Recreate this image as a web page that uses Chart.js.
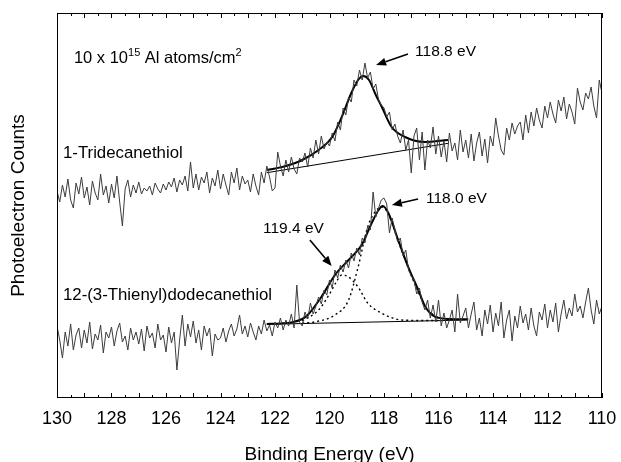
<!DOCTYPE html>
<html><head><meta charset="utf-8">
<script src="https://cdn.jsdelivr.net/npm/chart.js@4"></script>
<style>html,body{margin:0;padding:0;background:#fff}#wrap{width:621px;height:462px}</style>
</head><body><div id="wrap"><canvas id="c" width="621" height="462"></canvas></div>
<script>
// Binding energy grid (eV)
const energies = [
130.0,129.9,129.8,129.7,129.6,129.5,129.4,129.3,129.2,129.1,
129.0,128.9,128.8,128.7,128.6,128.5,128.4,128.3,128.2,128.1,
128.0,127.9,127.8,127.7,127.6,127.5,127.4,127.3,127.2,127.1,
127.0,126.9,126.8,126.7,126.6,126.5,126.4,126.3,126.2,126.1,
126.0,125.9,125.8,125.7,125.6,125.5,125.4,125.3,125.2,125.1,
125.0,124.9,124.8,124.7,124.6,124.5,124.4,124.3,124.2,124.1,
124.0,123.9,123.8,123.7,123.6,123.5,123.4,123.3,123.2,123.1,
123.0,122.9,122.8,122.7,122.6,122.5,122.4,122.3,122.2,122.1,
122.0,121.9,121.8,121.7,121.6,121.5,121.4,121.3,121.2,121.1,
121.0,120.9,120.8,120.7,120.6,120.5,120.4,120.3,120.2,120.1,
120.0,119.9,119.8,119.7,119.6,119.5,119.4,119.3,119.2,119.1,
119.0,118.9,118.8,118.7,118.6,118.5,118.4,118.3,118.2,118.1,
118.0,117.9,117.8,117.7,117.6,117.5,117.4,117.3,117.2,117.1,
117.0,116.9,116.8,116.7,116.6,116.5,116.4,116.3,116.2,116.1,
116.0,115.9,115.8,115.7,115.6,115.5,115.4,115.3,115.2,115.1,
115.0,114.9,114.8,114.7,114.6,114.5,114.4,114.3,114.2,114.1,
114.0,113.9,113.8,113.7,113.6,113.5,113.4,113.3,113.2,113.1,
113.0,112.9,112.8,112.7,112.6,112.5,112.4,112.3,112.2,112.1,
112.0,111.9,111.8,111.7,111.6,111.5,111.4,111.3,111.2,111.1,
111.0,110.9,110.8,110.7,110.6,110.5,110.4,110.3,110.2,110.1,
110.0];

// 1-Tridecanethiol spectrum (arbitrary counts)
const tridecanethiolCounts = [
207,196,213,201,219,198,190,215,204,221,
200,211,193,217,205,198,224,203,212,195,
214,200,222,196,172,209,218,201,213,205,
216,204,210,207,212,203,215,209,205,214,
208,216,211,220,206,218,213,222,207,236,
210,224,208,221,215,226,205,220,212,228,
209,224,213,203,226,215,230,208,222,214,
218,206,224,212,203,226,215,232,221,207,
210,246,232,222,238,226,241,229,224,240,
236,245,231,250,240,258,244,262,249,256,
252,265,257,276,268,290,283,301,296,318,
312,328,318,335,320,326,309,314,298,293,
290,281,286,268,274,262,255,268,248,258,
225,262,270,238,266,228,258,250,271,244,
262,241,257,236,265,247,255,238,268,246,
258,240,264,237,255,266,242,259,235,262,
252,280,262,248,243,270,258,275,264,272,
276,258,283,265,286,272,290,278,270,292,
280,296,284,275,298,287,301,279,294,286,
274,310,296,288,305,299,311,292,280,318,
305];

// 12-(3-Thienyl)dodecanethiol spectrum (arbitrary counts)
const thienylCounts = [
72,58,40,66,52,74,48,63,70,50,
68,55,76,49,64,58,73,45,66,60,
71,52,67,75,56,62,48,70,58,66,
54,69,47,72,60,65,50,74,58,63,
46,71,55,66,28,58,83,52,74,61,
77,55,68,48,72,62,70,42,64,58,
60,70,56,67,74,62,69,83,64,72,
61,75,66,58,72,64,78,67,73,62,
76,70,80,68,78,72,84,70,113,76,
72,86,79,95,84,92,101,94,108,103,
118,110,128,120,133,126,138,130,145,137,
150,143,160,155,172,168,206,181,190,198,
200,194,165,180,168,156,160,142,148,128,
122,118,104,110,96,88,98,80,93,76,
98,72,85,70,78,88,66,104,75,82,
90,70,84,96,68,80,62,88,74,93,
66,85,72,96,60,78,88,57,82,70,
92,75,84,68,90,72,62,86,78,94,
70,88,76,95,66,84,98,79,90,82,
104,86,92,80,96,110,88,74,98,84,
92];

// Fitted envelope, upper spectrum
const fitUpperEnergies = [122.3,122.0,121.6,121.0,120.4,119.9,119.55,119.2,118.95,118.76,118.55,118.3,118.08,117.72,117.23,116.5,115.65];
const fitUpperCounts   = [228,229.5,232,238,248,261,281,305,318,322,318,303,291,271,261,256,258];
const baseUpperEnergies = [122.3,115.65];
const baseUpperCounts   = [225.3,254.7];

// Fitted envelope, lower spectrum
const fitLowerEnergies = [122.3,121.8,121.4,121.0,120.8,120.3,119.8,119.3,118.82,118.45,118.2,118.05,117.84,117.48,117.11,116.74,116.5,116.13,115.6,114.91];
const fitLowerCounts   = [74,74.5,75.5,79,83,101,123,138,153,175,188,192,185,158,131,108,92,81.3,79,78.7];
const baseLowerEnergies = [122.3,114.91];
const baseLowerCounts   = [73.7,78];

// Component peaks (dotted)
const comp118Energies = [121.0,120.5,119.8,119.3,118.95,118.6,118.3,118.05,117.84,117.48,117.11,116.74,116.5,116.13,116.0];
const comp118Counts   = [74.8,76.3,83,98,131,171,187,191,184,157,130,106,92,82,80];
const comp119Energies = [121.0,120.4,120.0,119.75,119.55,119.3,118.95,118.6,118.1,117.35,116.5,116.0];
const comp119Counts   = [77,88,104,116,123,121,111,95,85,78,77.5,77.5];

// Axis tick labels
const xTickLabels = ['130','128','126','124','122','120','118','116','114','112','110'];

// Annotations in data coordinates
const labelTexts  = ['1-Tridecanethiol','12-(3-Thienyl)dodecanethiol','118.8 eV','118.0 eV','119.4 eV'];
const labelEnergy = [129.78,129.78,116.86,116.46,122.44];
const labelCounts = [240,98,342,195,165];
const labelSizes  = [16.8,16.8,15.5,15.5,15.5];
const arrowFrom = [[117.12,344],[116.75,199],[120.72,158]];
const arrowTo   = [[118.29,333],[117.71,193],[119.92,132]];
const coverageText = {e:129.38, v:335};

const pts = (xs, ys) => xs.map((x, i) => ({x, y: ys[i]}));
const FONT = "'Liberation Sans', Arial, Helvetica, sans-serif";

const framePlugin = {
  id: 'frame',
  afterDraw(chart) {
    const {ctx, chartArea: a, scales: {x}} = chart;
    ctx.save();
    ctx.strokeStyle = '#000';
    ctx.lineWidth = 1;
    ctx.strokeRect(Math.round(a.left) + 0.5, Math.round(a.top) + 0.5, Math.round(a.right - a.left) - 1, Math.round(a.bottom - a.top) - 1);
    ctx.beginPath();
    x.ticks.forEach(t => {
      const v = t.value;
      const px = Math.round(x.getPixelForValue(v)) + 0.5;
      const len = Math.abs(v - Math.round(v)) < 1e-6 ? 5 : 3;
      ctx.moveTo(px, a.bottom); ctx.lineTo(px, a.bottom - len);
      ctx.moveTo(px, a.top); ctx.lineTo(px, a.top + len);
    });
    ctx.stroke();
    ctx.restore();
  }
};

const annotPlugin = {
  id: 'annot',
  afterDatasetsDraw(chart) {
    const {ctx, scales: {x, y}} = chart;
    ctx.save();
    ctx.fillStyle = '#000';
    ctx.textBaseline = 'alphabetic';
    ctx.textAlign = 'left';
    labelTexts.forEach((t, i) => {
      ctx.font = labelSizes[i] + 'px ' + FONT;
      ctx.fillText(t, x.getPixelForValue(labelEnergy[i]), y.getPixelForValue(labelCounts[i]));
    });
    // coverage text with superscripts
    let px = x.getPixelForValue(coverageText.e);
    const py = y.getPixelForValue(coverageText.v);
    const segs = [['10 x 10', false], ['15', true], [' Al atoms/cm', false], ['2', true]];
    segs.forEach(([s, sup]) => {
      ctx.font = (sup ? '11px ' : '16.5px ') + FONT;
      ctx.fillText(s, px, sup ? py - 7 : py);
      px += ctx.measureText(s).width;
    });
    // arrows
    ctx.strokeStyle = '#000';
    ctx.lineWidth = 1.6;
    arrowFrom.forEach((f, i) => {
      const x1 = x.getPixelForValue(f[0]), y1 = y.getPixelForValue(f[1]);
      const x2 = x.getPixelForValue(arrowTo[i][0]), y2 = y.getPixelForValue(arrowTo[i][1]);
      const ang = Math.atan2(y2 - y1, x2 - x1);
      const hl = 10, hw = 4;
      const bx = x2 - hl * Math.cos(ang), by = y2 - hl * Math.sin(ang);
      ctx.beginPath(); ctx.moveTo(x1, y1); ctx.lineTo(bx, by); ctx.stroke();
      ctx.beginPath();
      ctx.moveTo(x2, y2);
      ctx.lineTo(bx + hw * Math.sin(ang), by - hw * Math.cos(ang));
      ctx.lineTo(bx - hw * Math.sin(ang), by + hw * Math.cos(ang));
      ctx.closePath(); ctx.fill();
    });
    ctx.restore();
  }
};

const raw = {borderColor: '#3c3c3c', borderWidth: 1, pointRadius: 0, tension: 0, fill: false};
const fit = {borderColor: '#000', borderWidth: 2, pointRadius: 0, cubicInterpolationMode: 'monotone', fill: false};
const base = {borderColor: '#000', borderWidth: 1, pointRadius: 0, tension: 0, fill: false};
const dot = {borderColor: '#000', borderWidth: 1.4, borderDash: [2, 3], pointRadius: 0, cubicInterpolationMode: 'monotone', fill: false};

new Chart(document.getElementById('c'), {
  type: 'line',
  data: {
    datasets: [
      {label: '1-Tridecanethiol', data: pts(energies, tridecanethiolCounts), ...raw},
      {label: '12-(3-Thienyl)dodecanethiol', data: pts(energies, thienylCounts), ...raw},
      {label: 'fit upper', data: pts(fitUpperEnergies, fitUpperCounts), ...fit},
      {label: 'baseline upper', data: pts(baseUpperEnergies, baseUpperCounts), ...base},
      {label: 'fit lower', data: pts(fitLowerEnergies, fitLowerCounts), ...fit},
      {label: 'baseline lower', data: pts(baseLowerEnergies, baseLowerCounts), ...base},
      {label: '118.0 eV', data: pts(comp118Energies, comp118Counts), ...dot},
      {label: '119.4 eV', data: pts(comp119Energies, comp119Counts), ...dot}
    ]
  },
  options: {
    responsive: false,
    animation: false,
    devicePixelRatio: 1,
    layout: {padding: {top: 13, right: 19, left: 0, bottom: 0}},
    plugins: {legend: {display: false}, tooltip: {enabled: false}},
    scales: {
      x: {
        type: 'linear', reverse: true, min: 110, max: 130,
        grid: {display: false, drawTicks: true, tickLength: 10},
        border: {display: false},
        ticks: {
          stepSize: 0.5, autoSkip: false, maxRotation: 0, padding: 0,
          color: '#000', font: {family: FONT, size: 18},
          callback: (v) => xTickLabels.includes(String(v)) ? String(v) : ''
        },
        title: {display: true, text: 'Binding Energy (eV)', color: '#000', font: {family: FONT, size: 19}, padding: {top: 0, bottom: -4}},
        afterFit: (s) => { s.height = 64; s.paddingLeft = 0; s.paddingRight = 0; }
      },
      y: {
        type: 'linear', min: 0, max: 385,
        grid: {display: false, drawTicks: false},
        border: {display: false},
        ticks: {display: false},
        title: {display: true, text: 'Photoelectron Counts', color: '#000', font: {family: FONT, size: 19}, padding: {top: 7, bottom: 0}},
        afterFit: (s) => { s.width = 57; }
      }
    }
  },
  plugins: [framePlugin, annotPlugin]
});
</script>
</body></html>
